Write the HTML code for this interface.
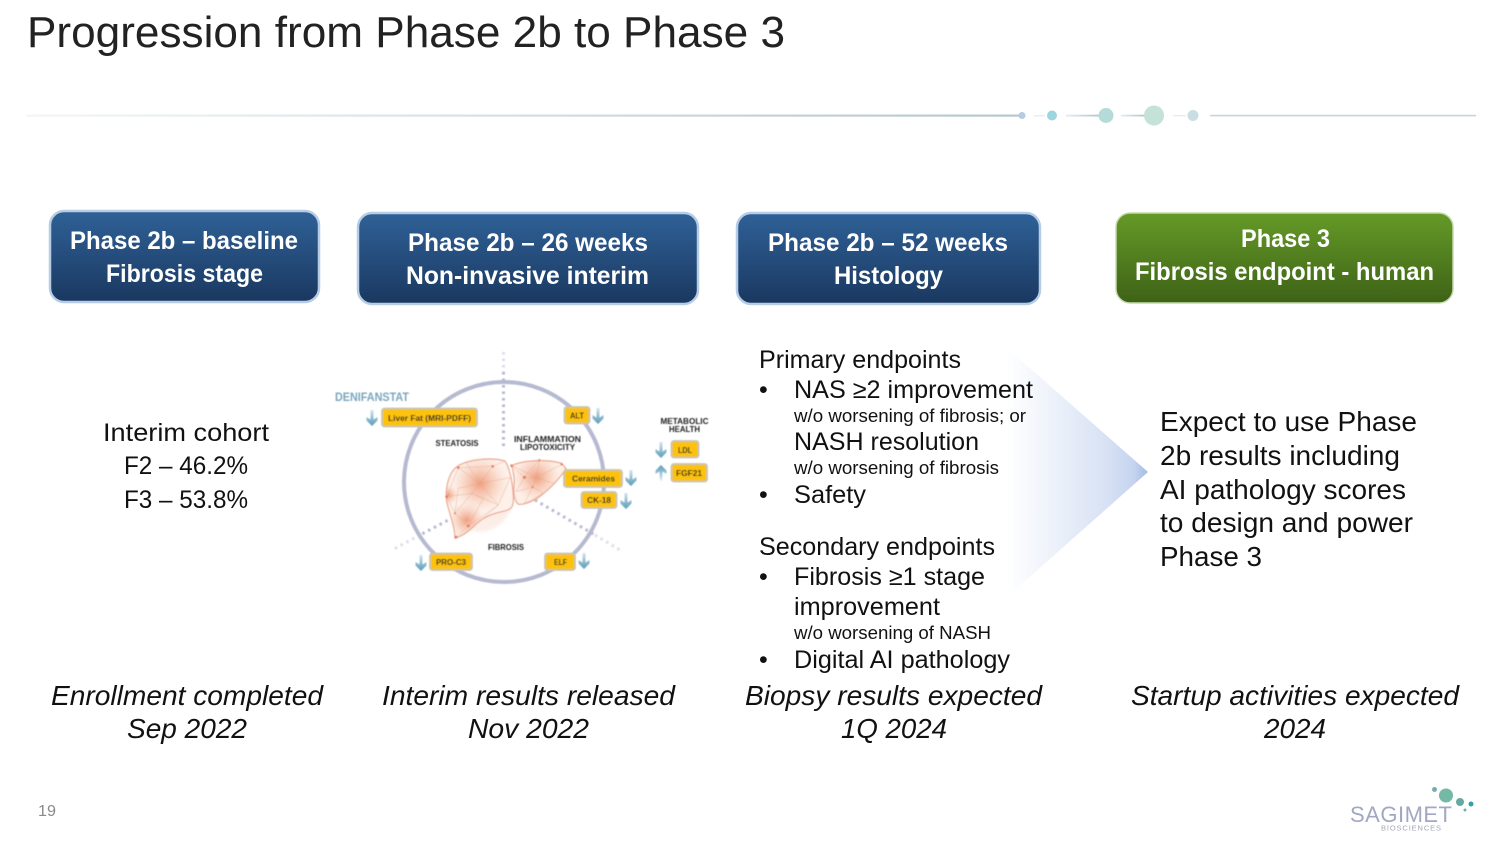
<!DOCTYPE html>
<html><head><meta charset="utf-8"><style>
html,body{margin:0;padding:0;background:#fff;width:1500px;height:844px;overflow:hidden}
svg{display:block}
text{font-family:"Liberation Sans",sans-serif}
.h{font-weight:bold;font-size:25px;fill:#fff}
.c{font-size:25px;fill:#111}
.b{font-size:25px;fill:#111}
.s{font-size:18px;fill:#111}
.r{font-size:28px;fill:#111}
.i{font-size:28px;font-style:italic;fill:#111}
.t{font-weight:bold;font-size:8.5px;fill:#222}
.l{font-weight:bold;font-size:8.5px;fill:#222}
.tag{fill:#fcc20e;stroke:#c6c4b2;stroke-width:1.8}
</style></head><body>
<svg width="1500" height="844" viewBox="0 0 1500 844" xmlns="http://www.w3.org/2000/svg">
<defs>
<linearGradient id="bl" x1="0" y1="0" x2="0" y2="1"><stop offset="0" stop-color="#2f6197"/><stop offset="1" stop-color="#1a3860"/></linearGradient>
<linearGradient id="gr" x1="0" y1="0" x2="0" y2="1"><stop offset="0" stop-color="#659a28"/><stop offset="1" stop-color="#3e6216"/></linearGradient>
<linearGradient id="tri" x1="0" y1="0" x2="1" y2="0"><stop offset="0" stop-color="#fff"/><stop offset=".7" stop-color="#d8e2f4"/><stop offset=".9" stop-color="#c5d4ef"/><stop offset="1" stop-color="#a3bbe5"/></linearGradient>
<linearGradient id="ln" x1="0" y1="0" x2="1" y2="0"><stop offset="0" stop-color="#f3f6f6"/><stop offset="1" stop-color="#b6c6cf"/></linearGradient>
<linearGradient id="ln2" x1="0" y1="0" x2="1" y2="0"><stop offset="0" stop-color="#e4edf0"/><stop offset="1" stop-color="#b0c4cc"/></linearGradient>
<linearGradient id="ad" x1="0" y1="0" x2="0" y2="1"><stop offset="0" stop-color="#d5e6ee"/><stop offset=".55" stop-color="#8dbbd0"/><stop offset="1" stop-color="#5d9ab8"/></linearGradient>
<linearGradient id="au" x1="0" y1="1" x2="0" y2="0"><stop offset="0" stop-color="#eef5f8"/><stop offset=".6" stop-color="#8dbbd0"/><stop offset="1" stop-color="#5d9ab8"/></linearGradient>
<linearGradient id="fd1" x1="0" y1="0" x2="0" y2="1"><stop offset="0" stop-color="#fff"/><stop offset=".25" stop-color="#a9adc6"/><stop offset="1" stop-color="#a9adc6"/></linearGradient>
<radialGradient id="hot"><stop offset="0" stop-color="#ee9a78" stop-opacity=".95"/><stop offset="1" stop-color="#f6c5ae" stop-opacity="0"/></radialGradient>
<filter id="soft" x="-5%" y="-5%" width="110%" height="110%"><feGaussianBlur stdDeviation=".4"/></filter>
<filter id="glow" x="-30%" y="-30%" width="160%" height="160%"><feGaussianBlur stdDeviation="4"/></filter>
<symbol id="down" viewBox="0 0 14 16" overflow="visible"><path d="M5.5 0H8.5V9.500L12.500 7V10.500L7 16L1.500 10.500V7L5.500 9.500Z" fill="url(#ad)"/></symbol>
<symbol id="up" viewBox="0 0 14 16" overflow="visible"><path d="M5.5 16H8.5V6.500L12.500 9V5.500L7 0L1.500 5.500V9L5.500 6.500Z" fill="url(#au)"/></symbol>
<clipPath id="cL"><path d="M75 70C100 45 180 35 225 48C240 70 250 120 250 165C250 190 240 195 215 200C170 210 150 225 130 245C110 265 90 275 75 280C75 250 60 210 50 170C45 130 55 90 75 70Z"/></clipPath>
<clipPath id="cR"><path d="M245 62C280 45 350 42 395 55L408 70C390 100 360 130 335 150C310 170 280 180 265 178C255 170 250 150 252 120C255 100 250 80 245 62Z"/></clipPath>
</defs>

<text x="27" y="47" font-size="44" fill="#222" textLength="758" lengthAdjust="spacingAndGlyphs">Progression from Phase 2b to Phase 3</text>

<!-- rule -->
<rect x="26" y="114.5" width="994" height="2.2" fill="url(#ln)"/>
<circle cx="1022" cy="115.5" r="3.5" fill="#b5cbe0"/>
<rect x="1034" y="115" width="11" height="1.4" fill="#e3eef0"/>
<circle cx="1052" cy="115.5" r="5" fill="#9dd5df"/>
<rect x="1066" y="114.7" width="33" height="1.8" fill="url(#ln2)"/>
<circle cx="1106" cy="115.5" r="7.5" fill="#b5dbd9"/>
<rect x="1121" y="114.7" width="24" height="1.8" fill="url(#ln2)"/>
<circle cx="1154" cy="115.5" r="10" fill="#c5e2d9"/>
<rect x="1173" y="115" width="13" height="1.4" fill="#e3eef0"/>
<circle cx="1193" cy="115.5" r="5.5" fill="#c8dee3"/>
<rect x="1210" y="114.8" width="266" height="1.6" fill="#c5d5db"/>

<!-- triangle -->
<path d="M1007 348L1148 472L1007 597Z" fill="url(#tri)"/>

<!-- headers -->
<rect x="50" y="211" width="269" height="91" rx="14" fill="url(#bl)" stroke="#b6cde5" stroke-width="2.5"/>
<rect x="358" y="213" width="340" height="91" rx="14" fill="url(#bl)" stroke="#b6cde5" stroke-width="2.5"/>
<rect x="737" y="213" width="303" height="91" rx="14" fill="url(#bl)" stroke="#b6cde5" stroke-width="2.5"/>
<rect x="1116" y="213" width="337" height="90" rx="14" fill="url(#gr)" stroke="#c5d9ad" stroke-width="1.5"/>
<text class="h" x="70" y="249" textLength="228" lengthAdjust="spacingAndGlyphs">Phase 2b – baseline</text>
<text class="h" x="106" y="282" textLength="157" lengthAdjust="spacingAndGlyphs">Fibrosis stage</text>
<text class="h" x="408" y="251" textLength="240" lengthAdjust="spacingAndGlyphs">Phase 2b – 26 weeks</text>
<text class="h" x="406" y="284" textLength="243" lengthAdjust="spacingAndGlyphs">Non-invasive interim</text>
<text class="h" x="768" y="251" textLength="240" lengthAdjust="spacingAndGlyphs">Phase 2b – 52 weeks</text>
<text class="h" x="834" y="284" textLength="109" lengthAdjust="spacingAndGlyphs">Histology</text>
<text class="h" x="1241" y="247" textLength="89" lengthAdjust="spacingAndGlyphs">Phase 3</text>
<text class="h" x="1135" y="280" textLength="299" lengthAdjust="spacingAndGlyphs">Fibrosis endpoint - human</text>

<!-- col 1 -->
<text class="c" x="103" y="441" textLength="166" lengthAdjust="spacingAndGlyphs">Interim cohort</text>
<text class="c" x="124" y="474" textLength="124" lengthAdjust="spacingAndGlyphs">F2 – 46.2%</text>
<text class="c" x="124" y="508" textLength="124" lengthAdjust="spacingAndGlyphs">F3 – 53.8%</text>

<!-- diagram -->
<g filter="url(#soft)">
<g stroke="#a9adc6" stroke-width="3" stroke-dasharray="2.500 4" fill="none">
<path d="M503.5 352V372" opacity=".4"/>
<path d="M503.5 372V450" opacity=".85"/>
<path d="M505 490L420 535" opacity=".85"/>
<path d="M420 535L392 550" opacity=".4"/>
<path d="M535 500L595 535" opacity=".85"/>
<path d="M595 535L620 550" opacity=".4"/>
</g>
<circle cx="504" cy="482" r="100" fill="none" stroke="#b6bad0" stroke-width="4"/>
<g transform="translate(430 445) scale(.33333)">
<ellipse cx="150" cy="150" rx="100" ry="110" fill="#f7cdbb" opacity=".35" filter="url(#glow)"/>
<path d="M75 70C100 45 180 35 225 48C240 70 250 120 250 165C250 190 240 195 215 200C170 210 150 225 130 245C110 265 90 275 75 280C75 250 60 210 50 170C45 130 55 90 75 70Z" fill="#fdf1ea"/>
<path d="M245 62C280 45 350 42 395 55L408 70C390 100 360 130 335 150C310 170 280 180 265 178C255 170 250 150 252 120C255 100 250 80 245 62Z" fill="#fdeee6"/>
<g clip-path="url(#cL)">
<circle cx="150" cy="115" r="85" fill="url(#hot)"/>
<circle cx="110" cy="225" r="55" fill="url(#hot)"/>
<circle cx="55" cy="150" r="30" fill="url(#hot)"/>
<g stroke="#e9a58c" stroke-width="1.300" fill="none">
<path d="M85 68L150 115L188 64M150 115L240 98M150 115L125 145L50 155M125 145L75 205L115 243L75 280M125 145L205 180L130 245M150 115L205 180M85 68L50 155M188 64L225 48M85 68L188 64M240 98L205 180M115 243L205 180M100 40L150 115M75 205L50 155M150 115L85 130L75 205M125 145L160 160L115 243"/>
</g>
</g>
<g clip-path="url(#cR)">
<circle cx="320" cy="98" r="70" fill="url(#hot)"/>
<g stroke="#e9a58c" stroke-width="1.300" fill="none">
<path d="M245 62L320 98L328 45M320 98L395 58M320 98L370 115M320 98L283 97L258 140M283 97L245 62M320 98L308 126L282 177M308 126L340 145L282 177M283 97L308 126M283 97L328 45M258 140L308 126"/>
</g>
</g>
<path d="M75 70C100 45 180 35 225 48C240 70 250 120 250 165C250 190 240 195 215 200C170 210 150 225 130 245C110 265 90 275 75 280C75 250 60 210 50 170C45 130 55 90 75 70Z" fill="none" stroke="#eba68c" stroke-width="3.500"/>
<path d="M245 62C280 45 350 42 395 55L408 70C390 100 360 130 335 150C310 170 280 180 265 178C255 170 250 150 252 120C255 100 250 80 245 62Z" fill="none" stroke="#eba68c" stroke-width="3.500"/>
<g fill="#e2785a"><circle cx="85" cy="68" r="4"/><circle cx="188" cy="64" r="4"/><circle cx="50" cy="155" r="4"/><circle cx="115" cy="243" r="4"/><circle cx="78" cy="276" r="4"/><circle cx="283" cy="97" r="4.500"/><circle cx="395" cy="58" r="3.500"/><circle cx="245" cy="62" r="4"/><circle cx="308" cy="126" r="3"/><circle cx="328" cy="45" r="3"/><circle cx="75" cy="205" r="3"/></g>
</g>

<text x="335" y="401" font-size="11.5" font-weight="bold" fill="#7aa6bd" textLength="74" lengthAdjust="spacingAndGlyphs">DENIFANSTAT</text>
<text class="t" x="435.500" y="446" textLength="43" lengthAdjust="spacingAndGlyphs">STEATOSIS</text>
<text class="t" x="514" y="442" textLength="67" lengthAdjust="spacingAndGlyphs">INFLAMMATION</text>
<text class="t" x="520" y="450" textLength="55" lengthAdjust="spacingAndGlyphs">LIPOTOXICITY</text>
<text class="t" x="488" y="550" textLength="36" lengthAdjust="spacingAndGlyphs">FIBROSIS</text>
<text class="t" x="660.500" y="424" textLength="48" lengthAdjust="spacingAndGlyphs">METABOLIC</text>
<text class="t" x="669" y="432" textLength="31" lengthAdjust="spacingAndGlyphs">HEALTH</text>

<rect class="tag" x="382" y="408.500" width="95" height="18" rx="2.500"/>
<rect class="tag" x="564.500" y="407" width="25" height="16.500" rx="2.500"/>
<rect class="tag" x="564" y="470" width="58" height="17" rx="2.500"/>
<rect class="tag" x="581.500" y="492" width="35" height="16" rx="2.500"/>
<rect class="tag" x="430" y="553.500" width="42" height="16.500" rx="2.500"/>
<rect class="tag" x="545" y="553.500" width="30" height="16.500" rx="2.500"/>
<rect class="tag" x="671.500" y="441" width="27" height="16.500" rx="2.500"/>
<rect class="tag" x="671.500" y="464" width="35.500" height="17.500" rx="2.500"/>
<text class="l" x="388" y="421" textLength="83" lengthAdjust="spacingAndGlyphs">Liver Fat (MRI-PDFF)</text>
<text class="l" x="570" y="418.500" textLength="14" lengthAdjust="spacingAndGlyphs">ALT</text>
<text class="l" x="572" y="481.500" textLength="43" lengthAdjust="spacingAndGlyphs">Ceramides</text>
<text class="l" x="587" y="503" textLength="24" lengthAdjust="spacingAndGlyphs">CK-18</text>
<text class="l" x="436" y="565" textLength="30" lengthAdjust="spacingAndGlyphs">PRO-C3</text>
<text class="l" x="554" y="565" textLength="13" lengthAdjust="spacingAndGlyphs">ELF</text>
<text class="l" x="678" y="453" textLength="14" lengthAdjust="spacingAndGlyphs">LDL</text>
<text class="l" x="676" y="476" textLength="26" lengthAdjust="spacingAndGlyphs">FGF21</text>

<use href="#down" x="365" y="410" width="14" height="16"/>
<use href="#down" x="591" y="408" width="14" height="16"/>
<use href="#down" x="624" y="470" width="14" height="16"/>
<use href="#down" x="619" y="493" width="14" height="16"/>
<use href="#down" x="414" y="555" width="14" height="16"/>
<use href="#down" x="577" y="553" width="14" height="16"/>
<use href="#down" x="654" y="442" width="14" height="16"/>
<use href="#up" x="654" y="465" width="14" height="16"/>
</g>

<!-- col 3 -->
<text class="b" x="759" y="368" textLength="202" lengthAdjust="spacingAndGlyphs">Primary endpoints</text>
<text class="b" x="759" y="398">•</text>
<text class="b" x="794" y="398" textLength="239" lengthAdjust="spacingAndGlyphs">NAS ≥2 improvement</text>
<text class="s" x="794" y="422" textLength="232" lengthAdjust="spacingAndGlyphs">w/o worsening of fibrosis; or</text>
<text class="b" x="794" y="450" textLength="185" lengthAdjust="spacingAndGlyphs">NASH resolution</text>
<text class="s" x="794" y="474" textLength="205" lengthAdjust="spacingAndGlyphs">w/o worsening of fibrosis</text>
<text class="b" x="759" y="503">•</text>
<text class="b" x="794" y="503" textLength="72" lengthAdjust="spacingAndGlyphs">Safety</text>
<text class="b" x="759" y="555" textLength="236" lengthAdjust="spacingAndGlyphs">Secondary endpoints</text>
<text class="b" x="759" y="585">•</text>
<text class="b" x="794" y="585" textLength="191" lengthAdjust="spacingAndGlyphs">Fibrosis ≥1 stage</text>
<text class="b" x="794" y="615" textLength="146" lengthAdjust="spacingAndGlyphs">improvement</text>
<text class="s" x="794" y="639" textLength="197" lengthAdjust="spacingAndGlyphs">w/o worsening of NASH</text>
<text class="b" x="759" y="668">•</text>
<text class="b" x="794" y="668" textLength="216" lengthAdjust="spacingAndGlyphs">Digital AI pathology</text>

<!-- col 4 -->
<text class="r" x="1160" y="431" textLength="257" lengthAdjust="spacingAndGlyphs">Expect to use Phase</text>
<text class="r" x="1160" y="465" textLength="240" lengthAdjust="spacingAndGlyphs">2b results including</text>
<text class="r" x="1160" y="499" textLength="246" lengthAdjust="spacingAndGlyphs">AI pathology scores</text>
<text class="r" x="1160" y="532" textLength="253" lengthAdjust="spacingAndGlyphs">to design and power</text>
<text class="r" x="1160" y="566" textLength="102" lengthAdjust="spacingAndGlyphs">Phase 3</text>

<!-- italics -->
<text class="i" x="51" y="705" textLength="272" lengthAdjust="spacingAndGlyphs">Enrollment completed</text>
<text class="i" x="127" y="738" textLength="120" lengthAdjust="spacingAndGlyphs">Sep 2022</text>
<text class="i" x="382" y="705" textLength="293" lengthAdjust="spacingAndGlyphs">Interim results released</text>
<text class="i" x="468" y="738" textLength="121" lengthAdjust="spacingAndGlyphs">Nov 2022</text>
<text class="i" x="745" y="705" textLength="297" lengthAdjust="spacingAndGlyphs">Biopsy results expected</text>
<text class="i" x="841" y="738" textLength="106" lengthAdjust="spacingAndGlyphs">1Q 2024</text>
<text class="i" x="1131" y="705" textLength="328" lengthAdjust="spacingAndGlyphs">Startup activities expected</text>
<text class="i" x="1264" y="738" textLength="62" lengthAdjust="spacingAndGlyphs">2024</text>

<text x="38" y="816" font-size="16" fill="#8a8a8a" textLength="18" lengthAdjust="spacingAndGlyphs">19</text>

<!-- logo -->
<circle cx="1434.500" cy="789.500" r="2.500" fill="#74adb4"/>
<circle cx="1446" cy="795.500" r="7" fill="#73b9a5"/>
<circle cx="1460" cy="802" r="4" fill="#64ab9f"/>
<circle cx="1471" cy="804" r="2.500" fill="#2f9fb3"/>
<circle cx="1465" cy="810" r="1.500" fill="#74adb4"/>
<text x="1350" y="822" font-size="22" fill="#a3a7c4" textLength="102" lengthAdjust="spacing">SAGIMET</text>
<text x="1381" y="830.500" font-size="7.500" fill="#a5a5b5" textLength="60" lengthAdjust="spacing">BIOSCIENCES</text>
</svg>
</body></html>
